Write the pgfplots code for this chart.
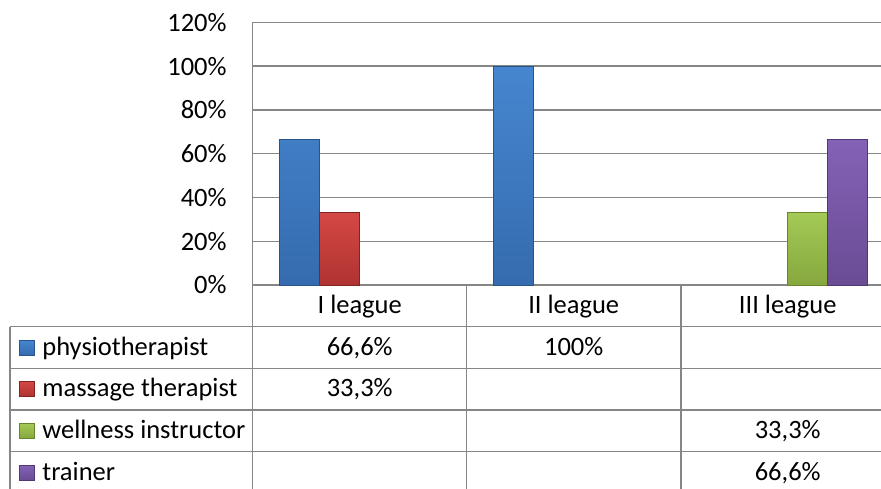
\documentclass[border=0pt]{standalone}
\usepackage{fontspec}
\setmainfont{Carlito}
\usepackage{pgfplots}
\pgfplotsset{compat=1.18}
\definecolor{gridc}{RGB}{134,134,134}
\definecolor{bluem}{RGB}{61,122,198}
\definecolor{blued}{RGB}{40,84,140}
\definecolor{bluel}{RGB}{70,134,208}
\definecolor{redm}{RGB}{200,58,56}
\definecolor{redd}{RGB}{130,36,34}
\definecolor{redl}{RGB}{212,72,68}
\definecolor{greenm}{RGB}{152,190,70}
\definecolor{greend}{RGB}{104,132,44}
\definecolor{greenl}{RGB}{164,202,86}
\definecolor{purm}{RGB}{120,86,168}
\definecolor{purd}{RGB}{80,56,116}
\definecolor{purl}{RGB}{132,98,182}
\newcommand{\fs}{\fontsize{13.25pt}{16pt}\selectfont}
\begin{document}
\begin{tikzpicture}
\useasboundingbox (0,0) rectangle (440.5pt,-244pt);
\clip (0,0) rectangle (440.5pt,-244pt);
\begin{axis}[
  at={(126.35pt,-142.5pt)}, anchor=south west,
  width=321pt, height=131.35pt, scale only axis,
  xmin=-0.5, xmax=2.5, ymin=0, ymax=120,
  xtick=\empty,
  ytick={0,20,40,60,80,100,120},
  yticklabel={\pgfmathprintnumber{\tick}\%},
  /pgf/number format/assume math mode=true,
  yticklabel style={font=\fs, anchor=east, inner sep=0pt, xshift=-12.85pt},
  major tick length=0pt,
  ymajorgrids, grid style={draw=gridc, line width=0.7pt},
  axis x line*=bottom, axis y line*=left,
  axis line style={draw=gridc, line width=0.7pt, -},
  ybar=0pt, bar width=20pt,
  clip=false,
]
\addplot[ybar, draw=blued, line width=0.5pt, top color=bluel, bottom color=bluem!88!black] coordinates {(0,66.6) (1,100)};
\addplot[ybar, draw=redd, line width=0.5pt, top color=redl, bottom color=redm!88!black] coordinates {(0,33.3)};
\addplot[ybar, draw=greend, line width=0.5pt, top color=greenl, bottom color=greenm!88!black] coordinates {(2,33.3)};
\addplot[ybar, draw=purd, line width=0.5pt, top color=purl, bottom color=purm!88!black] coordinates {(2,66.6)};
\end{axis}
\begin{scope}[x=0.5pt, y=-0.5pt, line width=0.7pt, draw=gridc]
  \foreach \yy in {326.7,368.3,410,451.7,493.4} {
    \draw[gridc] (10,\yy) -- (895,\yy);
  }
  \draw[gridc] (10,326.7) -- (10,493.4);
  \foreach \xx in {252.7,466.7,681,894.7} {
    \draw[gridc] (\xx,285) -- (\xx,493.4);
  }
  \node[font=\fs, anchor=base, inner sep=0pt] at (359.7,313) {I league};
  \node[font=\fs, anchor=base, inner sep=0pt] at (573.7,313) {II league};
  \node[font=\fs, anchor=base, inner sep=0pt] at (787.7,313) {III league};
  \draw[blued, line width=0.5pt, top color=bluel, bottom color=bluem!88!black] (19.3,340) rectangle (34.3,355);
  \draw[redd, line width=0.5pt, top color=redl, bottom color=redm!88!black] (19.3,381.5) rectangle (34.3,396.5);
  \draw[greend, line width=0.5pt, top color=greenl, bottom color=greenm!88!black] (19.3,423.3) rectangle (34.3,438.3);
  \draw[purd, line width=0.5pt, top color=purl, bottom color=purm!88!black] (19.3,465) rectangle (34.3,480);
  \node[font=\fs, anchor=base west, inner sep=0pt] at (41.7,355) {physiotherapist};
  \node[font=\fs, anchor=base west, inner sep=0pt] at (41.7,396.5) {massage therapist};
  \node[font=\fs, anchor=base west, inner sep=0pt] at (41.7,438.3) {wellness instructor};
  \node[font=\fs, anchor=base west, inner sep=0pt] at (41.7,480) {trainer};
  \node[font=\fs, anchor=base, inner sep=0pt] at (359.7,355) {66,6\%};
  \node[font=\fs, anchor=base, inner sep=0pt] at (573.7,355) {100\%};
  \node[font=\fs, anchor=base, inner sep=0pt] at (359.7,396.5) {33,3\%};
  \node[font=\fs, anchor=base, inner sep=0pt] at (787.7,438.3) {33,3\%};
  \node[font=\fs, anchor=base, inner sep=0pt] at (787.7,480) {66,6\%};
\end{scope}
\end{tikzpicture}
\end{document}
